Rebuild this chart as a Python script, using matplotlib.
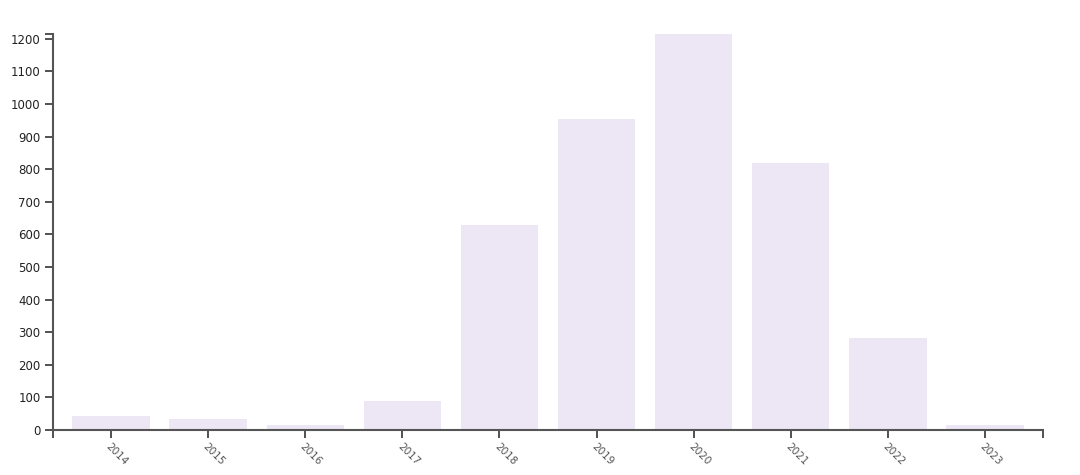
import numpy as np
import matplotlib.pyplot as plt
from matplotlib.ticker import FixedLocator

years = ['2014', '2015', '2016', '2017', '2018', '2019', '2020', '2021', '2022', '2023']
counts = [43, 34, 15, 89, 629, 955, 1215, 819, 282, 15]

W, H = 1080, 475
fig = plt.figure(figsize=(W/100, H/100), dpi=100)
ax = fig.add_axes([53/W, (H-430)/H, (1043-53)/W, (430-34)/H])

x = np.arange(len(years))
ax.bar(x, counts, width=0.8, color='#ece6f5', edgecolor='none')

ymax = max(counts)
ax.set_xlim(-0.6, len(years) - 0.4)
ax.set_ylim(0, ymax)

ax.set_xticks(x)
ax.set_xticklabels(years, rotation=-45, ha='left', va='top', rotation_mode='anchor',
                   fontsize=7.5, color='#555555')
ax.set_yticks(np.arange(0, 1201, 100))
ax.set_yticklabels([str(v) for v in range(0, 1201, 100)], fontsize=8.5, color='#222222')

# d3-style outer ticks at the ends of the axis
ax.xaxis.set_minor_locator(FixedLocator([-0.6, len(years) - 0.4]))
ax.yaxis.set_minor_locator(FixedLocator([0, ymax]))
ax.tick_params(which='both', direction='out', length=6, width=1.2, color='#333333')
ax.tick_params(axis='x', which='major', pad=2)
ax.tick_params(axis='y', which='major', pad=3)

for s in ['top', 'right']:
    ax.spines[s].set_visible(False)
for s in ['left', 'bottom']:
    ax.spines[s].set_color('#555555')
    ax.spines[s].set_linewidth(1.5)

fig.savefig('out.png', dpi=100)
